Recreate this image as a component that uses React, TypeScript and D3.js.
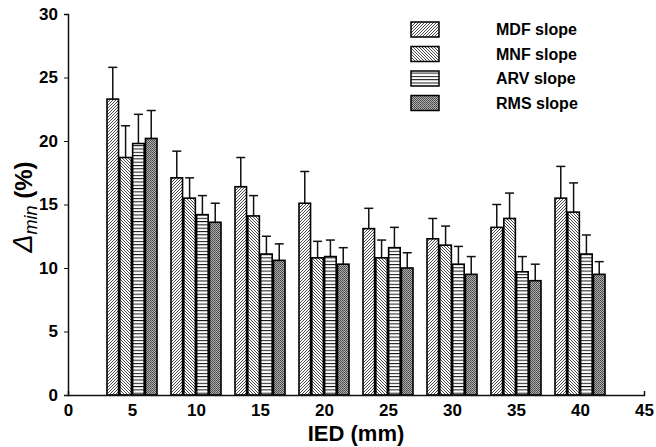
import React, { useEffect, useRef } from 'react';
import * as d3 from 'd3';

// IED (mm) groups
const categories = [5, 10, 15, 20, 25, 30, 35, 40];
const seriesNames = ['MDF slope', 'MNF slope', 'ARV slope', 'RMS slope'];

// mean values (%)
const mdf = [23.3, 17.1, 16.4, 15.1, 13.1, 12.3, 13.2, 15.5];
const mnf = [18.7, 15.5, 14.1, 10.8, 10.8, 11.8, 13.9, 14.4];
const arv = [19.8, 14.2, 11.1, 10.9, 11.6, 10.3, 9.7, 11.1];
const rms = [20.2, 13.6, 10.6, 10.3, 10.0, 9.5, 9.0, 9.5];

// upper error (SD)
const mdfErr = [2.5, 2.1, 2.3, 2.5, 1.6, 1.6, 1.8, 2.5];
const mnfErr = [2.5, 1.6, 1.6, 1.3, 1.4, 1.5, 2.0, 2.3];
const arvErr = [2.3, 1.5, 1.4, 1.3, 1.6, 1.4, 1.2, 1.5];
const rmsErr = [2.2, 1.5, 1.3, 1.3, 1.2, 1.4, 1.3, 1.0];

const xTicks = [0, 5, 10, 15, 20, 25, 30, 35, 40, 45];
const yTicks = [0, 5, 10, 15, 20, 25, 30];

const W = 656;
const H = 447;
const FONT = "'Liberation Sans', Arial, sans-serif";

export default function App() {
  const ref = useRef<SVGSVGElement>(null);

  useEffect(() => {
    const svg = d3.select(ref.current);
    svg.selectAll('*').remove();

    const x = d3.scaleLinear().domain([0, 45]).range([68, 644]);
    const y = d3.scaleLinear().domain([0, 30]).range([395, 14]);
    const inner = d3.scaleBand<string>().domain(seriesNames).range([-25, 25]).paddingInner(0.1);

    const defs = svg.append('defs');
    // MDF: forward diagonal hatch
    const p1 = defs.append('pattern').attr('id', 'pMDF').attr('patternUnits', 'userSpaceOnUse')
      .attr('width', 3).attr('height', 3);
    p1.append('rect').attr('width', 3).attr('height', 3).attr('fill', '#fff');
    p1.append('path').attr('d', 'M-1,1 L1,-1 M0,3 L3,0 M2,4 L4,2').attr('stroke', '#333').attr('stroke-width', 0.9);
    // MNF: backward diagonal hatch
    const p2 = defs.append('pattern').attr('id', 'pMNF').attr('patternUnits', 'userSpaceOnUse')
      .attr('width', 3).attr('height', 3);
    p2.append('rect').attr('width', 3).attr('height', 3).attr('fill', '#fff');
    p2.append('path').attr('d', 'M-1,2 L1,4 M0,0 L3,3 M2,-1 L4,1').attr('stroke', '#333').attr('stroke-width', 0.9);
    // ARV: horizontal lines
    const p3 = defs.append('pattern').attr('id', 'pARV').attr('patternUnits', 'userSpaceOnUse')
      .attr('width', 4).attr('height', 3.3);
    p3.append('rect').attr('width', 4).attr('height', 3.3).attr('fill', '#fff');
    p3.append('line').attr('x1', 0).attr('x2', 4).attr('y1', 0.5).attr('y2', 0.5).attr('stroke', '#111').attr('stroke-width', 1);
    // RMS: dark stipple
    const p4 = defs.append('pattern').attr('id', 'pRMS').attr('patternUnits', 'userSpaceOnUse')
      .attr('width', 2).attr('height', 2);
    p4.append('rect').attr('width', 2).attr('height', 2).attr('fill', '#b0b0b0');
    p4.append('rect').attr('width', 1).attr('height', 1).attr('fill', '#444');
    p4.append('rect').attr('x', 1).attr('y', 1).attr('width', 1).attr('height', 1).attr('fill', '#555');

    const fills = ['url(#pMDF)', 'url(#pMNF)', 'url(#pARV)', 'url(#pRMS)'];
    const values = [mdf, mnf, arv, rms];
    const errs = [mdfErr, mnfErr, arvErr, rmsErr];

    const bars = svg.append('g');
    seriesNames.forEach((name, si) => {
      const g = bars.append('g');
      const data = categories.map((c, i) => ({ c, v: values[si][i], e: errs[si][i] }));
      const bx = (d: any) => x(d.c) + (inner(name) as number);
      const bw = inner.bandwidth();

      // error bars
      g.selectAll('line.err').data(data).join('line')
        .attr('x1', d => bx(d) + bw / 2).attr('x2', d => bx(d) + bw / 2)
        .attr('y1', d => y(d.v)).attr('y2', d => y(d.v + d.e))
        .attr('stroke', '#111').attr('stroke-width', 1.5);
      g.selectAll('line.cap').data(data).join('line')
        .attr('x1', d => bx(d) + bw / 2 - 4.5).attr('x2', d => bx(d) + bw / 2 + 4.5)
        .attr('y1', d => y(d.v + d.e)).attr('y2', d => y(d.v + d.e))
        .attr('stroke', '#111').attr('stroke-width', 1.5);

      g.selectAll('rect').data(data).join('rect')
        .attr('x', d => bx(d)).attr('width', bw)
        .attr('y', d => y(d.v)).attr('height', d => y(0) - y(d.v))
        .attr('fill', fills[si]).attr('stroke', '#000').attr('stroke-width', 1.6);
    });

    // axes
    const xAxis = svg.append('g').attr('transform', `translate(0,${y(0)})`)
      .call(d3.axisBottom(x).tickValues(xTicks).tickSize(-4).tickPadding(9).tickFormat(d3.format('d')));
    xAxis.select('.domain').attr('stroke', '#111').attr('stroke-width', 1.5);
    xAxis.selectAll('line').attr('stroke', '#111');
    xAxis.selectAll('text').attr('font-family', FONT).attr('font-weight', 'bold').attr('font-size', 17).attr('fill', '#000');

    const yAxis = svg.append('g').attr('transform', `translate(${x(0)},0)`)
      .call(d3.axisLeft(y).tickValues(yTicks).tickSize(4).tickPadding(6).tickFormat(d3.format('d')));
    yAxis.select('.domain').attr('stroke', '#111').attr('stroke-width', 1.5);
    yAxis.selectAll('line').attr('stroke', '#111');
    yAxis.selectAll('text').attr('font-family', FONT).attr('font-weight', 'bold').attr('font-size', 17).attr('fill', '#000');

    // axis titles
    svg.append('text')
      .attr('x', (x(0) + x(45)) / 2).attr('y', 441)
      .attr('text-anchor', 'middle')
      .attr('font-family', FONT).attr('font-weight', 'bold').attr('font-size', 22)
      .text('IED (mm)');

    const yl = svg.append('text')
      .attr('transform', 'translate(32,207) rotate(-90)')
      .attr('text-anchor', 'middle')
      .attr('font-family', FONT).attr('font-size', 24);
    yl.append('tspan').attr('font-style', 'italic').attr('font-size', 27).text('Δ');
    yl.append('tspan').attr('font-style', 'italic').attr('font-size', 18).attr('dy', 5).text('min');
    yl.append('tspan').attr('font-weight', 'bold').attr('dy', -5).text(' (%)');

    // legend
    const lg = svg.append('g');
    seriesNames.forEach((name, i) => {
      const top = 22 + i * 24.5;
      lg.append('rect').attr('x', 411).attr('y', top).attr('width', 28).attr('height', 15)
        .attr('fill', fills[i]).attr('stroke', '#000').attr('stroke-width', 1.5);
      lg.append('text').attr('x', 496).attr('y', top + 13)
        .attr('font-family', FONT).attr('font-weight', 'bold').attr('font-size', 16)
        .text(name);
    });
  }, []);

  return (
    <svg ref={ref} width={W} height={H}
      style={{ position: 'absolute', left: 0, top: 0, background: '#fff' }} />
  );
}
